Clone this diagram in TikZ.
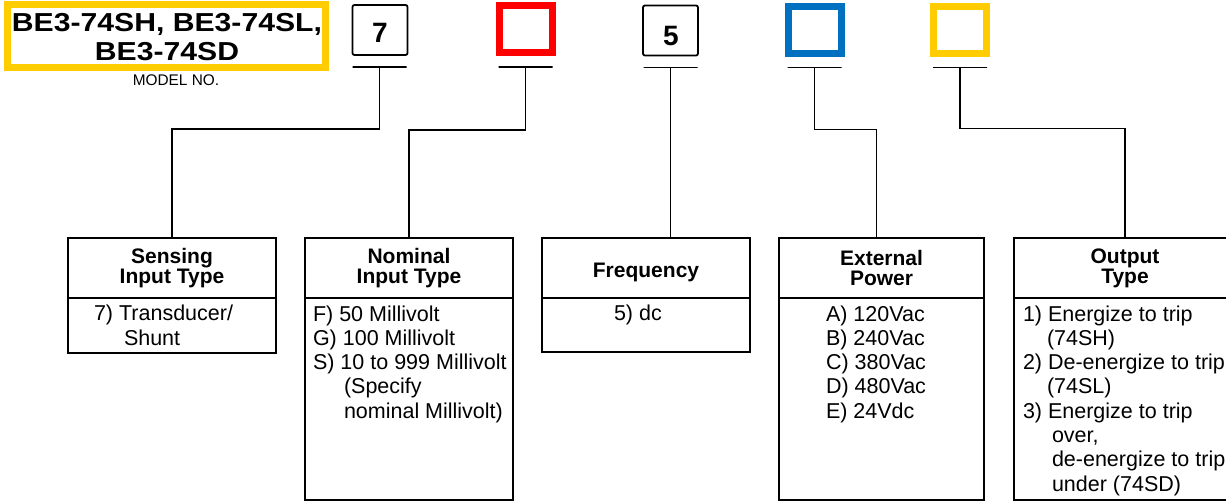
\documentclass[tikz,border=0pt]{standalone}
\usepackage{fontspec}
\setmainfont{Liberation Sans}
\usetikzlibrary{positioning}

\definecolor{codeyellow}{RGB}{255,204,0}
\definecolor{codered}{RGB}{255,0,0}
\definecolor{codeblue}{RGB}{0,112,192}

\newcommand{\topline}{\rule{0pt}{16pt}}

\begin{document}
\begin{tikzpicture}[x=1pt, y=-1pt, node distance=29pt,
    every node/.style={inner sep=0pt, outer sep=0pt},
    digit/.style={draw, line width=1.8pt, rounded corners=2pt, minimum width=55pt, minimum height=50pt},
    slot/.style={draw, line width=7pt, minimum width=53pt, minimum height=47pt},
    num/.style={font=\fontsize{28}{28}\selectfont\bfseries},
    bar/.style={draw, line width=1.8pt, minimum width=54pt, minimum height=0pt},
    title/.style={align=center, font=\fontsize{21}{20}\selectfont\bfseries},
    head/.style={title, draw, line width=2.2pt, minimum height=60pt},
    body/.style={draw, line width=2.2pt},
    item/.style={anchor=north west, align=left, font=\fontsize{21.5}{24.3}\selectfont},
    wire/.style={line width=1.9pt}]
  \useasboundingbox (0,0) rectangle (1226,502);

  % model number
  \node[draw=codeyellow, line width=7pt, minimum width=318pt, minimum height=63pt] (model) at (166.5,36) {};
  \node[align=center, font=\fontsize{26}{29.5}\selectfont\bfseries] (mtitle) at (167,37) {\scalebox{1.16}[1]{BE3-74SH, BE3-74SL,}\\\scalebox{1.16}[1]{BE3-74SD}};
  \node[font=\fontsize{15.4}{16}\selectfont] (mno) at (176,80) {MODEL NO.};

  % code boxes
  \node[digit] (d7) at (380,30) {};
  \node[num] (n7) at (380,33) {7};
  \node[slot, draw=codered] (dred) at (525.5,29) {};
  \node[digit] (d5) at (670.5,30.5) {};
  \node[num] (n5) at (671,36) {5};
  \node[slot, draw=codeblue] (dblue) at (815,30.5) {};
  \node[slot, draw=codeyellow] (dyel) at (960,30.5) {};

  \node[bar] (u7) at (379.5,67) {};
  \node[bar] (ured) at (525.5,67) {};
  \node[bar] (u5) at (670.5,67.5) {};
  \node[bar] (ublue) at (814.5,67.5) {};
  \node[bar] (uyel) at (960,67.5) {};

  % option tables
  \node[head, minimum width=208pt] (sens) at (172,268) {Sensing\\Input Type};
  \node[head, minimum width=208pt] (nom) [right=of sens] {Nominal\\Input Type};
  \node[head, minimum width=208pt] (freq) [right=of nom] {};
  \node[title] (freq-h) at ([yshift=-4.5pt]freq.center) {Frequency};
  \node[head, minimum width=205pt] (ext) [right=of freq] {External\\Power};
  \node[head, minimum width=222pt] (outp) [right=30pt of ext] {Output\\Type};

  \node[body, minimum width=208pt, minimum height=55pt] (sens-b) [below=0pt of sens] {};
  \node[body, minimum width=208pt, minimum height=202pt] (nom-b) [below=0pt of nom] {};
  \node[body, minimum width=208pt, minimum height=54pt] (freq-b) [below=0pt of freq] {};
  \node[body, minimum width=205pt, minimum height=202pt] (ext-b) [below=0pt of ext] {};
  \node[body, minimum width=222pt, minimum height=202pt] (outp-b) [below=0pt of outp] {};

  \node[item] (sens-t) at (94,305) {\topline 7) Transducer/\\\hspace*{30pt}Shunt};
  \node[item] (nom-t) at (313,305) {\topline F) 50 Millivolt\\G) 100 Millivolt\\S) 10 to 999 Millivolt\\\hspace*{31pt}(Specify\\\hspace*{31pt}nominal Millivolt)};
  \node[item] (freq-t) at (614,305) {\topline 5) dc};
  \node[item] (ext-t) at (826,305) {\topline A) 120Vac\\B) 240Vac\\C) 380Vac\\D) 480Vac\\E) 24Vdc};
  \node[item] (outp-t) at (1023,305) {\topline 1) Energize to trip\\\hspace*{24pt}(74SH)\\2) De-energize to trip\\\hspace*{24pt}(74SL)\\3) Energize to trip\\\hspace*{29pt}over,\\\hspace*{29pt}de-energize to trip\\\hspace*{29pt}under (74SD)};

  % connectors
  \draw[wire] (u7) -- ++(0,62) -| (sens.north);
  \draw[wire] (ured) -- ++(0,63) -| (nom.north);
  \draw[wire] (u5) -- (u5 |- freq.north);
  \draw[wire] (ublue) -- ++(0,62) -| ([xshift=-5pt]ext.north);
  \draw[wire] (uyel) -- ++(0,61) -| (outp.north);
\end{tikzpicture}
\end{document}
